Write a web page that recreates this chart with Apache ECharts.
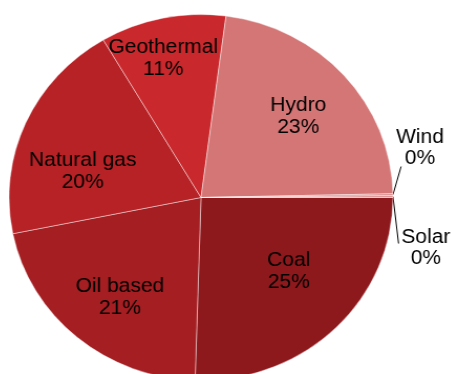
<!DOCTYPE html>
<html><head><meta charset="utf-8">
<script src="https://cdn.jsdelivr.net/npm/echarts@6/dist/echarts.min.js"></script>
<style>
html,body{margin:0;padding:0;background:#fff;overflow:hidden}
#c{width:451px;height:374px;transform:scaleX(1.049);transform-origin:201px 0}
</style>
</head><body><div id="c"></div>
<script>
// ---- data ----
const categories = ['Coal', 'Oil based', 'Natural gas', 'Geothermal', 'Hydro', 'Wind', 'Solar'];
const shares = [25.49, 21.34, 19.67, 10.58, 22.59, 0.17, 0.16];
const outsideNames = ['Wind', 'Solar'];

// ---- styles / label placement (best-fit like the original) ----
const sliceColors = ['#8E191D', '#A51E22', '#B62226', '#C9282C', '#D57676', '#D98A8A', '#D98A8A'];
const FONT = "'Liberation Sans', Arial, sans-serif";
const center = [201, 197.5];
const R = 183;
const insideNudge = {
  'Coal': [-3, -15], 'Oil based': [3, 5], 'Natural gas': [1, 25],
  'Geothermal': [-11, -17], 'Hydro': [0, 2]
};
const outsideShift = {'Wind': [-12, -47], 'Solar': [-7, 51]};
const leaderEnd = {'Wind': [-18, 19], 'Solar': [-26, -4]};

const chart = echarts.init(document.getElementById('c'), null, {renderer: 'canvas'});

const visibleData = categories.map((name, i) => ({
  name, value: shares[i],
  itemStyle: {color: sliceColors[i]},
  label: {show: outsideNames.includes(name)},
  labelLine: {show: outsideNames.includes(name)}
}));
const labelData = categories.map((name, i) => ({
  name, value: shares[i],
  label: {show: !outsideNames.includes(name)}
}));

chart.setOption({
  animation: false,
  backgroundColor: '#fff',
  series: [
    {
      type: 'pie',
      center: center,
      radius: R,
      startAngle: 0,
      clockwise: true,
      avoidLabelOverlap: false,
      percentPrecision: 0,
      silent: true,
      itemStyle: {borderColor: 'rgba(255,255,255,0.55)', borderWidth: 0.8},
      label: {
        position: 'outside',
        formatter: '{b}\n{d}%',
        color: '#000',
        fontFamily: FONT,
        fontSize: 20,
        lineHeight: 21
      },
      labelLine: {length: 10, length2: 0, lineStyle: {color: '#000', width: 1}},
      labelLayout: function (p) {
        const name = categories[p.dataIndex];
        const s = outsideShift[name];
        if (!s) return {};
        const r = p.labelRect;
        const cx = r.x + r.width / 2 + s[0];
        const cy = r.y + r.height / 2 + s[1];
        const out = {x: cx, y: cy, align: 'center', verticalAlign: 'middle'};
        const pts = p.labelLinePoints;
        if (pts && pts.length) {
          const e = leaderEnd[name];
          out.labelLinePoints = [pts[0], [cx + e[0], cy + e[1]]];
        }
        return out;
      },
      data: visibleData
    },
    {
      type: 'pie',
      center: center,
      radius: [60, R],
      startAngle: 0,
      clockwise: true,
      percentPrecision: 0,
      silent: true,
      itemStyle: {color: 'rgba(0,0,0,0)', borderWidth: 0},
      label: {
        position: 'inside',
        formatter: '{b}\n{d}%',
        color: '#000',
        fontFamily: FONT,
        fontSize: 20,
        lineHeight: 22
      },
      labelLine: {show: false},
      labelLayout: function (p) {
        const n = insideNudge[categories[p.dataIndex]];
        return n ? {dx: n[0], dy: n[1]} : {};
      },
      data: labelData
    }
  ]
});
</script>
</body></html>
